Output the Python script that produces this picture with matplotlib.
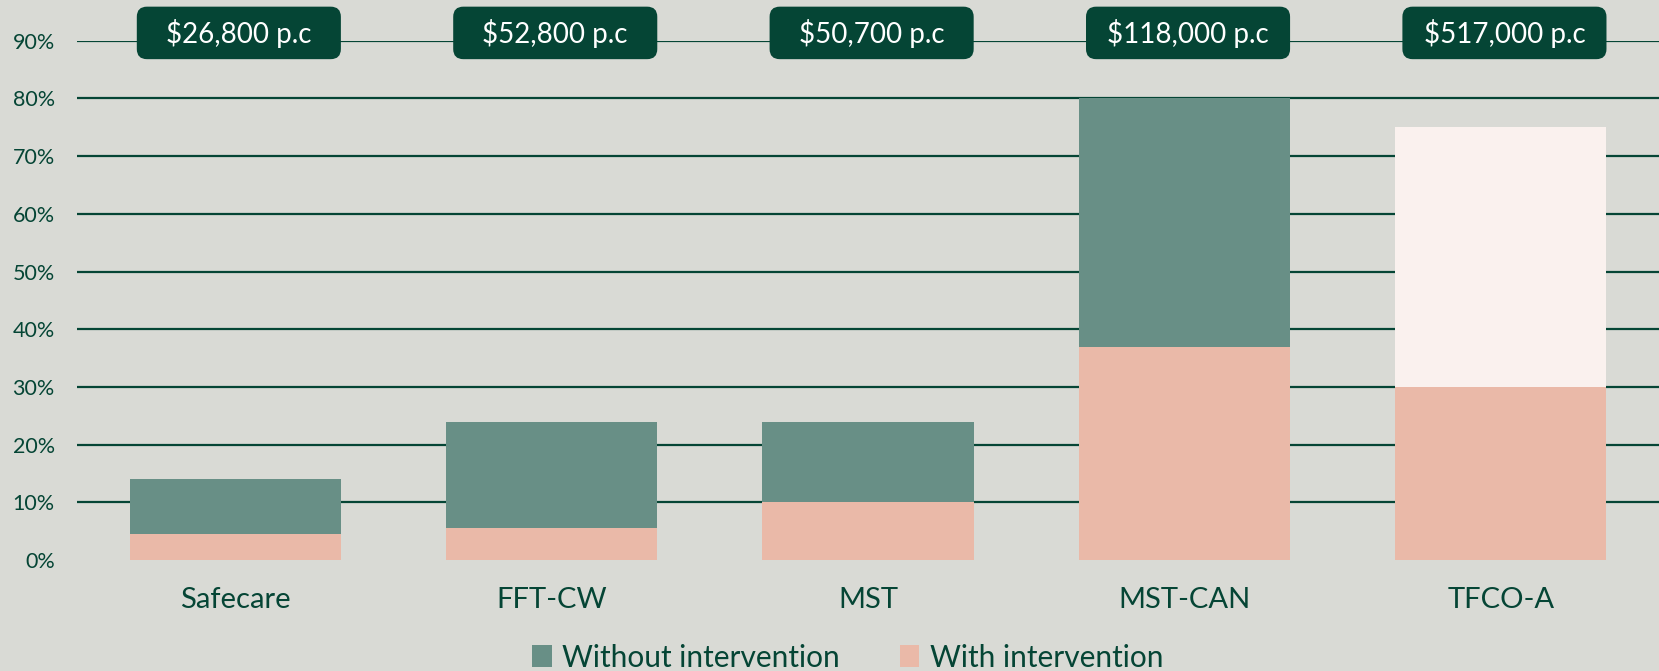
import matplotlib.pyplot as plt
from matplotlib.patches import FancyBboxPatch, Patch

# data (percent)
programs = ['Safecare', 'FFT-CW', 'MST', 'MST-CAN', 'TFCO-A']
without_intervention = [14, 24, 24, 80, 75]
with_intervention = [4.5, 5.5, 10, 37, 30]
cost_labels = ['$26,800 p.c', '$52,800 p.c', '$50,700 p.c', '$118,000 p.c', '$517,000 p.c']

BG = '#D9DAD5'
DARK = '#054535'
GREEN = '#688F86'
PINK = '#EAB9A8'
PALE = '#FAF1EE'

plt.rcParams['font.family'] = ['Lato', 'DejaVu Sans']

fig = plt.figure(figsize=(16.59, 6.71), dpi=100, facecolor=BG)
ax = fig.add_axes([77 / 1659, 1 - 560 / 671, 1 - 77 / 1659, (560 - 40.7) / 671])
ax.set_facecolor(BG)

# gridlines behind the bars (none at 0%)
for y in range(10, 100, 10):
    ax.axhline(y, color=DARK, lw=1.6, zorder=1)

x = list(range(len(programs)))
width = 0.667
# TFCO-A top segment is drawn in a pale tint
top_colors = [GREEN, GREEN, GREEN, GREEN, PALE]
ax.bar(x, without_intervention, width=width, color=top_colors, zorder=2, linewidth=0)
ax.bar(x, with_intervention, width=width, color=PINK, zorder=3, linewidth=0)

# cost boxes above each bar
for i, lab in enumerate(cost_labels):
    box = FancyBboxPatch((i - 0.3225 + 0.0115, 86.8), 0.645, 9.1,
                         boxstyle='round,pad=0,rounding_size=0.032',
                         mutation_aspect=54.8, facecolor=DARK, edgecolor='none',
                         zorder=5, clip_on=False)
    ax.add_patch(box)
    ax.text(i + 0.0115, 91.3, lab, color='white', fontsize=20, ha='center',
            va='center', zorder=6, clip_on=False)

ax.set_xlim(-0.5, 4.5)
ax.set_ylim(0, 90)
ax.set_yticks(range(0, 100, 10))
ax.set_yticklabels([f'{v}%' for v in range(0, 100, 10)])
ax.set_xticks(x)
ax.set_xticklabels(programs)
ax.tick_params(axis='y', length=0, pad=16, labelsize=15.5, labelcolor=DARK)
ax.tick_params(axis='x', length=0, pad=19.5, labelsize=21, labelcolor=DARK)
for s in ax.spines.values():
    s.set_visible(False)

handles = [Patch(facecolor=GREEN, label='Without intervention'),
           Patch(facecolor=PINK, label='With intervention')]
fig.legend(handles=handles, loc='center', bbox_to_anchor=(0.511, 0.02), ncol=2,
           frameon=False, fontsize=21.5, labelcolor=DARK, handlelength=0.65,
           handleheight=0.75, handletextpad=0.35, columnspacing=2.0,
           borderpad=0.1)

fig.savefig('out.png', dpi=100, facecolor=BG)
